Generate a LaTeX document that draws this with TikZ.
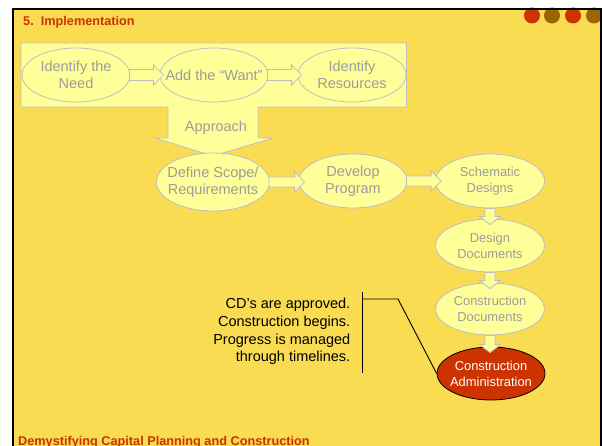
\documentclass[tikz,border=0pt]{standalone}
\usepackage{fontspec}
\setmainfont{Liberation Sans}
\usetikzlibrary{shapes.geometric,calc}
\definecolor{slide}{HTML}{F9DC52}
\definecolor{pale}{HTML}{FFFF99}
\definecolor{edgec}{HTML}{BDBDC8}
\definecolor{greytxt}{HTML}{9C9C9C}
\definecolor{rust}{HTML}{CC3300}
\definecolor{brownd}{HTML}{996600}
\newcommand\harr[4]{%
  \draw[barrow] let \p1=(#1.east), \p2=(#2.west) in
    (\x1-1pt,\y1+#3) -- (\x2+#4-10pt,\y1+#3) -- (\x2+#4-10pt,\y1+10pt) --
    (\x2+#4,\y1) -- (\x2+#4-10pt,\y1-10pt) -- (\x2+#4-10pt,\y1-#3) --
    (\x1-1pt,\y1-#3) -- cycle;}
\newcommand\varr[2]{%
  \draw[barrow] let \p1=(#1.south), \p2=(#2.north) in
    (\x1-5pt,\y1) -- (\x1-5pt,\y2+2pt) -- (\x1-10.5pt,\y2+2pt) --
    (\x1,\y2-6pt) -- (\x1+10.5pt,\y2+2pt) -- (\x1+5pt,\y2+2pt) --
    (\x1+5pt,\y1) -- cycle;}
\begin{document}
\begin{tikzpicture}[x=1pt,y=-1pt,
  ell/.style={ellipse,draw=edgec,fill=pale,line width=0.8pt,inner sep=0pt},
  bigt/.style={text=greytxt,font=\fontsize{14.5}{17}\selectfont,align=center,inner sep=0pt},
  smallt/.style={text=greytxt,font=\fontsize{12.9}{16}\selectfont,align=center,inner sep=0pt},
  barrow/.style={draw=edgec,fill=pale,line width=0.8pt},
  headt/.style={text=rust,font=\fontsize{12.7}{15}\selectfont\bfseries,inner sep=0pt},
  dot/.style={circle,inner sep=0pt,minimum size=16pt}]
\useasboundingbox[fill=white] (0,0) rectangle (602,446);
% slide
\fill[slide] (12.5,9.5) rectangle (601,470);
\begin{scope}
  \clip (0,0) rectangle (600,446);
  \node[dot,fill=rust] (d1) at (532,15.5) {};
  \node[dot,fill=brownd] (d2) at (552,15.5) {};
  \node[dot,fill=rust] (d3) at (573,15.5) {};
  \node[dot,fill=brownd] (d4) at (594,15.5) {};
\end{scope}
\draw[black,line width=2pt] (12.5,470) -- (12.5,9.5) -- (601,9.5) -- (601,470);
\node[headt,anchor=base west] (title) at (23,26) {5.\ \ Implementation};
\node[headt,anchor=base west] (footer) at (18,445.5) {Demystifying Capital Planning and Construction};
% big pale shape
\draw[barrow] (21,43) -- (406.5,43) -- (406.5,107) -- (258,107) -- (258,138) -- (273,138)
  -- (213,156) -- (155,138) -- (168,138) -- (168,107) -- (21,107) -- cycle;
\node[bigt] (appr) at (216,128) {Approach};
% top row
\node[ell,minimum width=108pt,minimum height=54pt] (need) at (76,75) {};
\node[bigt] at (need.center) {Identify the\\Need};
\node[ell,minimum width=108pt,minimum height=54pt] (want) at (214,75) {};
\node[ell,minimum width=108pt,minimum height=54pt] (res) at (352,75) {};
\node[bigt] at (res.center) {Identify\\Resources};
\harr{need}{want}{5.5pt}{4pt}
\harr{want}{res}{5.5pt}{4pt}
\node[bigt] at (want.center) {Add the “Want”};
% second row
\node[ell,minimum width=113pt,minimum height=58pt] (scope) at (213,182) {};
\node[bigt] at (scope.center) {Define Scope/\\Requirements};
\node[ell,minimum width=108pt,minimum height=54pt] (prog) at (353,181) {};
\node[bigt] at (prog.center) {Develop\\Program};
\node[ell,minimum width=109pt,minimum height=54pt] (schem) at (490,181) {};
\node[smallt] at (schem.center) {Schematic\\Designs};
\node[ell,minimum width=109pt,minimum height=53pt] (dd) at (490,245.5) {};
\node[smallt] at (dd.center) {Design\\Documents};
\node[ell,minimum width=109pt,minimum height=52pt] (cd) at (490,309) {};
\node[smallt] at (cd.center) {Construction\\Documents};
\node[ellipse,draw=black,fill=rust,line width=0.8pt,inner sep=0pt,minimum width=108pt,minimum height=53pt] (ca) at (491,373.5) {};
\node[smallt,text=white] at (ca.center) {Construction\\Administration};
\harr{scope}{prog}{5pt}{6pt}
\harr{prog}{schem}{5pt}{6pt}
\varr{schem}{dd}
\varr{dd}{cd}
\varr{cd}{ca}
% callout
\node[inner sep=0pt,align=right,anchor=east,font=\fontsize{14.5}{17.7}\selectfont] (note) at (350.5,331.5)
  {CD’s are approved.\\Construction begins.\\Progress is managed\\through timelines.};
\coordinate (bt) at (362,292);
\coordinate (bb) at (362,373);
\coordinate (bj) at (362,299);
\coordinate (bend) at (398,299);
\draw[black,line width=0.9pt] (bt) -- (bb);
\draw[black,line width=0.9pt] (bj) -- (bend) -- (ca.west);
\end{tikzpicture}
\end{document}
